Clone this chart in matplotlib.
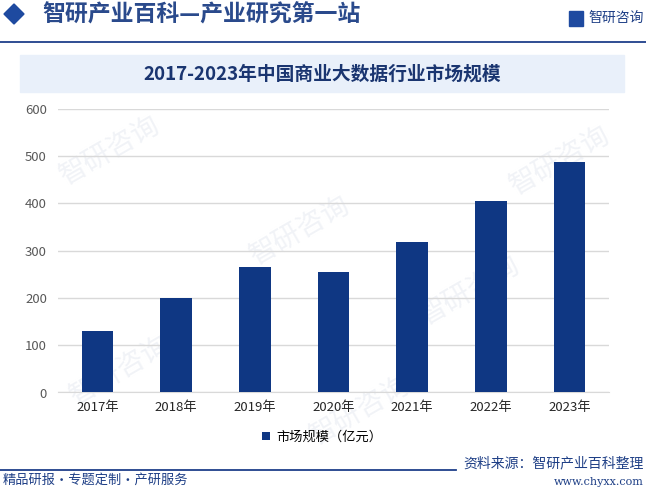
import matplotlib
matplotlib.use("Agg")
import matplotlib.pyplot as plt
from matplotlib.patches import Rectangle, Polygon

plt.rcParams['font.family'] = ['Noto Sans CJK SC', 'DejaVu Sans']

years = ['2017年', '2018年', '2019年', '2020年', '2021年', '2022年', '2023年']
values = [131, 200, 266, 254, 319, 406, 487]
yticks = [0, 100, 200, 300, 400, 500, 600]
title = '2017-2023年中国商业大数据行业市场规模'
legend_label = '市场规模（亿元）'

W, H = 646, 490
fig = plt.figure(figsize=(W / 100, H / 100), dpi=100)
fig.patch.set_facecolor('white')

def fx(px):
    return px / W

def fy(py):
    return 1 - py / H

bar_color = '#0f3783'

# faint watermarks in a background axes
bg = fig.add_axes([0, 0, 1, 1], zorder=-5)
bg.set_axis_off()
bg.set_xlim(0, W)
bg.set_ylim(H, 0)
for (x, y) in [(110, 150), (300, 230), (120, 370), (470, 290), (560, 160), (360, 410)]:
    bg.text(x, y, '智研咨询', fontsize=20, color='#f1f3f7', rotation=30,
            ha='center', va='center')

# header
fig.patches.append(Polygon([[fx(4), fy(14)], [fx(14), fy(4)], [fx(24), fy(14)], [fx(14), fy(24)]],
                           closed=True, transform=fig.transFigure, color='#1e4aa0', zorder=2))
fig.text(fx(42), fy(15), '智研产业百科—产业研究第一站', fontsize=16.5, fontweight='bold',
         color='#2a4a8c', ha='left', va='center')
fig.text(fx(644), fy(18), '智研咨询', fontsize=10, color='#1e3f86', ha='right', va='center')
fig.patches.append(Rectangle((fx(569), fy(26)), 14 / W, 15 / H, transform=fig.transFigure,
                             color='#1e4aa0', zorder=2))
fig.lines.append(plt.Line2D([0, 1], [fy(42), fy(42)], transform=fig.transFigure,
                            color='#1f3f8a', lw=1.3))

# title band
fig.patches.append(Rectangle((fx(20), fy(92)), (624 - 20) / W, (92 - 55) / H,
                             transform=fig.transFigure, color='#e9f0fa', zorder=1))
fig.text(fx(322), fy(74), title, fontsize=13.5, fontweight='bold', color='#1a3570',
         ha='center', va='center', zorder=3)

# axes
ax = fig.add_axes([fx(58), fy(392.5), (609 - 58) / W, (392.5 - 109) / H])
ax.set_facecolor('none')
x = list(range(len(years)))
ax.bar(x, values, width=0.4, color=bar_color, zorder=3, label=legend_label)
ax.set_xlim(-0.5, len(years) - 0.5)
ax.set_ylim(0, 600)
ax.set_yticks(yticks)
ax.set_xticks(x)
ax.set_xticklabels(years)
ax.grid(axis='y', color='#d9d9d9', lw=1, zorder=0)
for s in ['top', 'right', 'left']:
    ax.spines[s].set_visible(False)
ax.spines['bottom'].set_color('#d9d9d9')
ax.tick_params(axis='y', length=0, pad=8, labelsize=9.5, labelcolor='#595959')
ax.tick_params(axis='x', length=0, pad=6, labelsize=9.5, labelcolor='#262626')

leg = ax.legend(loc='center', bbox_to_anchor=(fx(322), fy(437)), bbox_transform=fig.transFigure,
                frameon=False, fontsize=9.5, handlelength=0.6, handleheight=0.6, handletextpad=0.5)

# footer
fig.lines.append(plt.Line2D([0, fx(456)], [fy(470), fy(470)], transform=fig.transFigure,
                            color='#1f3f8a', lw=1.3))
fig.text(fx(644), fy(463), '资料来源：智研产业百科整理', fontsize=10, color='#1e3f86',
         ha='right', va='center')
fig.text(fx(644), fy(482), 'www.chyxx.com', fontsize=8, color='#1e3f86', ha='right',
         va='center', family='DejaVu Serif')
fig.text(fx(3), fy(480), '精品研报·专题定制·产研服务', fontsize=9.5, color='#1e3f86',
         ha='left', va='center')

fig.savefig('out.png', dpi=100)
